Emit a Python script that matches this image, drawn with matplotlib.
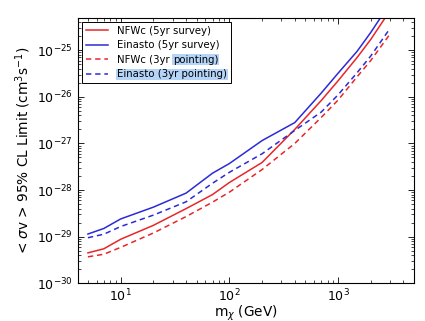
import numpy as np
import matplotlib
matplotlib.use('Agg')
import matplotlib.pyplot as plt

# masses (GeV) and 95% CL limits
mass = [5, 7, 10, 20, 40, 70, 100, 200, 400, 700, 1000, 1500, 2000, 3000]
nfw_survey = [4.5e-30, 5.5e-30, 8.8e-30, 1.75e-29, 4.0e-29, 8.0e-29, 1.45e-28,
              3.9e-28, 2.0e-27, 8.3e-27, 2.2e-26, 7.0e-26, 1.7e-25, 7.0e-25]
ein_survey = [1.14e-29, 1.5e-29, 2.4e-29, 4.3e-29, 8.6e-29, 2.3e-28, 3.7e-28,
              1.15e-27, 2.8e-27, 1.2e-26, 3.2e-26, 9.5e-26, 2.4e-25, 1.0e-24]
nfw_point = [3.7e-30, 4.2e-30, 5.9e-30, 1.2e-29, 2.7e-29, 5.5e-29, 9.0e-29,
             2.75e-28, 1.0e-27, 3.6e-27, 8.5e-27, 2.7e-26, 6.0e-26, 2.2e-25]
ein_point = [9.5e-30, 1.13e-29, 1.65e-29, 2.9e-29, 5.6e-29, 1.4e-28, 2.4e-28,
             6.0e-28, 1.9e-27, 4.7e-27, 1.1e-26, 3.3e-26, 7.5e-26, 2.9e-25]

labels = ['NFWc (5yr survey)', 'Einasto (5yr survey)',
          'NFWc (3yr pointing)', 'Einasto (3yr pointing)']

red = '#e8262a'
blue = '#2b2bd6'
hl = '#b5d5f8'
legsize = 7.3

fig = plt.figure(figsize=(4.25, 3.21), dpi=100)
ax = fig.add_axes([0.1835, 0.1174, 0.79, 0.8266])

ax.plot(mass, nfw_survey, color=red, lw=1.1, label=labels[0])
ax.plot(mass, ein_survey, color=blue, lw=1.1, label=labels[1])
ax.plot(mass, nfw_point, color=red, lw=1.1, ls=(0, (3.5, 2.5)), label=labels[2])
ax.plot(mass, ein_point, color=blue, lw=1.1, ls=(0, (3.5, 2.5)), label=labels[3])

ax.set_xscale('log')
ax.set_yscale('log')
ax.set_xlim(4.05, 4970)
ax.set_ylim(1e-30, 4.9e-25)

ax.tick_params(which='both', direction='in', top=True, right=True, labelsize=9)
ax.tick_params(which='major', length=4.5, width=0.6)
ax.tick_params(which='minor', length=2.2, width=0.5)
for s in ax.spines.values():
    s.set_linewidth(0.8)

ax.set_xlabel(r'm$_\chi$ (GeV)', fontsize=9.8, labelpad=-1)
ax.set_ylabel(r'< $\sigma$v > 95% CL Limit (cm$^3$s$^{-1}$)', fontsize=9.8,
              labelpad=3)

leg = ax.legend(loc='upper left', fontsize=legsize, fancybox=False, framealpha=1,
                edgecolor='black', borderaxespad=0.35, handlelength=2.2,
                labelspacing=0.45, borderpad=0.4, handletextpad=0.9)
leg.get_frame().set_linewidth(0.7)

# text-selection highlight seen in the original legend
texts = leg.get_texts()
texts[3].set_bbox(dict(facecolor=hl, edgecolor='none', pad=0.5))
fig.canvas.draw()
r = fig.canvas.get_renderer()
t = texts[2]
px, py = t.get_transform().transform(t.get_position())
pre = fig.text(0, 0, 'NFWc (3yr ', fontsize=legsize)
w = pre.get_window_extent(r).width
pre.remove()
fx, fy = fig.transFigure.inverted().transform((px + w, py))
fig.text(fx, fy, 'pointing)', fontsize=legsize, ha='left', va='baseline',
         bbox=dict(facecolor=hl, edgecolor='none', pad=0.5), zorder=10)

fig.savefig('out.png', dpi=100)
